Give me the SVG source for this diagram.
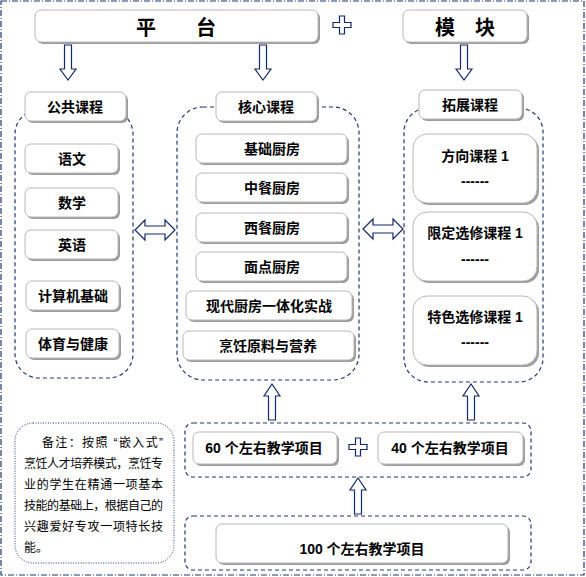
<svg xmlns="http://www.w3.org/2000/svg" width="586" height="577" viewBox="0 0 586 577">
<style>
.bx{fill:#fff;stroke:#b8b8b8;stroke-width:1}
.sh{fill:#9c9c9c}
.ct{fill:none;stroke:#1f3873;stroke-width:1.2;stroke-dasharray:4 3}
.ar{fill:#fff;stroke:#13296b;stroke-width:1.2;stroke-linejoin:miter}
.t{font-family:"Liberation Sans","Noto Sans CJK SC",sans-serif;font-weight:bold;font-size:14px;fill:#000;text-anchor:middle}
.big{font-size:20px}
.n{font-family:"Liberation Sans","Noto Sans CJK SC",sans-serif;font-size:12px;fill:#000}
</style>
<defs>
<path id="dn" class="ar" d="M-3.5,0 H3.5 V24 H8 L0,35 L-8,24 H-3.5 Z"/>
<path id="up" class="ar" d="M-3.5,36 H3.5 V12 H8 L0,0 L-8,12 H-3.5 Z"/>
<path id="lr" class="ar" d="M0,0 L10,-10 V-4 H30 V-10 L40,0 L30,10 V4 H10 V10 Z"/>
<path id="plus" class="ar" d="M-2.5,-9 H2.5 V-2.5 H9 V2.5 H2.5 V9 H-2.5 V2.5 H-9 V-2.5 H-2.5 Z"/>
</defs>

<rect x="1" y="1" width="583" height="574" fill="none" stroke="#1f3873" stroke-width="1.2" stroke-dasharray="6 2 1 2"/>

<g id="containers">
<rect class="ct" x="15" y="110" width="118" height="268" rx="24"/>
<rect class="ct" x="177" y="107" width="182" height="273" rx="26"/>
<rect class="ct" x="404" y="108" width="139" height="274" rx="24"/>
<rect class="ct" x="185" y="423" width="346" height="54" rx="8"/>
<rect class="ct" x="185" y="516" width="346" height="54" rx="8"/>
</g>

<g id="n-pingtai"><rect class="sh" x="37" y="12" width="283" height="32" rx="6"/><rect class="bx" x="35" y="10" width="283" height="32" rx="6"/><text class="t big" x="176" y="35">平　　台</text></g>
<g id="n-mokuai"><rect class="sh" x="405" y="12" width="124" height="32" rx="6"/><rect class="bx" x="403" y="10" width="124" height="32" rx="6"/><text class="t big" x="465" y="35">模　块</text></g>

<g id="n-gonggong"><rect class="sh" x="27" y="94" width="101" height="29" rx="6"/><rect class="bx" x="25" y="92" width="101" height="29" rx="6"/><text class="t" x="75" y="112">公共课程</text></g>
<g id="n-hexin"><rect class="sh" x="218" y="94" width="101" height="29" rx="6"/><rect class="bx" x="216" y="92" width="101" height="29" rx="6"/><text class="t" x="266" y="112">核心课程</text></g>
<g id="n-tuozhan"><rect class="sh" x="421" y="92" width="103" height="29" rx="6"/><rect class="bx" x="419" y="90" width="103" height="29" rx="6"/><text class="t" x="470" y="110">拓展课程</text></g>

<g id="n-yuwen"><rect class="sh" x="27" y="146" width="93" height="29" rx="6"/><rect class="bx" x="25" y="144" width="93" height="29" rx="6"/><text class="t" x="72" y="164">语文</text></g>
<g id="n-shuxue"><rect class="sh" x="27" y="190" width="93" height="29" rx="6"/><rect class="bx" x="25" y="188" width="93" height="29" rx="6"/><text class="t" x="72" y="208">数学</text></g>
<g id="n-yingyu"><rect class="sh" x="27" y="232" width="93" height="29" rx="6"/><rect class="bx" x="25" y="230" width="93" height="29" rx="6"/><text class="t" x="72" y="250">英语</text></g>
<g id="n-jisuanji"><rect class="sh" x="28" y="283" width="93" height="29" rx="6"/><rect class="bx" x="26" y="281" width="93" height="29" rx="6"/><text class="t" x="73" y="301">计算机基础</text></g>
<g id="n-tiyu"><rect class="sh" x="28" y="331" width="93" height="29" rx="6"/><rect class="bx" x="26" y="329" width="93" height="29" rx="6"/><text class="t" x="73" y="349">体育与健康</text></g>

<g id="n-jichu"><rect class="sh" x="198" y="136" width="151" height="29" rx="6"/><rect class="bx" x="196" y="134" width="151" height="29" rx="6"/><text class="t" x="272" y="154">基础厨房</text></g>
<g id="n-zhongcan"><rect class="sh" x="198" y="175" width="151" height="29" rx="6"/><rect class="bx" x="196" y="173" width="151" height="29" rx="6"/><text class="t" x="272" y="193">中餐厨房</text></g>
<g id="n-xican"><rect class="sh" x="198" y="215" width="151" height="29" rx="6"/><rect class="bx" x="196" y="213" width="151" height="29" rx="6"/><text class="t" x="272" y="233">西餐厨房</text></g>
<g id="n-miandian"><rect class="sh" x="198" y="254" width="151" height="29" rx="6"/><rect class="bx" x="196" y="252" width="151" height="29" rx="6"/><text class="t" x="272" y="272">面点厨房</text></g>
<g id="n-xiandai"><rect class="sh" x="188" y="293" width="166" height="29" rx="6"/><rect class="bx" x="186" y="291" width="166" height="29" rx="6"/><text class="t" x="269" y="311">现代厨房一体化实战</text></g>
<g id="n-pengren"><rect class="sh" x="185" y="333" width="171" height="29" rx="6"/><rect class="bx" x="183" y="331" width="171" height="29" rx="6"/><text class="t" x="268" y="351">烹饪原料与营养</text></g>

<g id="n-fangxiang"><rect class="sh" x="415" y="136" width="124" height="69" rx="14"/><rect class="bx" x="413" y="134" width="124" height="69" rx="14"/><text class="t" x="475" y="161">方向课程 1</text><text class="t" x="475" y="186">------</text></g>
<g id="n-xianding"><rect class="sh" x="415" y="214" width="124" height="69" rx="14"/><rect class="bx" x="413" y="212" width="124" height="69" rx="14"/><text class="t" x="475" y="238">限定选修课程 1</text><text class="t" x="475" y="264">------</text></g>
<g id="n-tese"><rect class="sh" x="415" y="298" width="124" height="69" rx="14"/><rect class="bx" x="413" y="296" width="124" height="69" rx="14"/><text class="t" x="475" y="322">特色选修课程 1</text><text class="t" x="475" y="347">------</text></g>

<g id="n-60"><rect class="sh" x="195" y="434" width="144" height="32" rx="6"/><rect class="bx" x="193" y="432" width="144" height="32" rx="6"/><text class="t" x="264" y="453">60 个左右教学项目</text></g>
<g id="n-40"><rect class="sh" x="380" y="434" width="145" height="32" rx="6"/><rect class="bx" x="378" y="432" width="145" height="32" rx="6"/><text class="t" x="450" y="453">40 个左右教学项目</text></g>
<g id="n-100"><rect class="sh" x="218" y="526" width="292" height="39" rx="6"/><rect class="bx" x="216" y="524" width="292" height="39" rx="6"/><text class="t" x="362" y="554">100 个左右教学项目</text></g>

<g id="n-note">
<rect x="15" y="423" width="159" height="140" rx="18" fill="none" stroke="#1f3873" stroke-width="1" stroke-dasharray="1 1.5"/>
<text class="n" x="42" y="447" textLength="121" lengthAdjust="spacing">备注：按照 “嵌入式”</text>
<text class="n" x="24" y="468" textLength="139" lengthAdjust="spacing">烹饪人才培养模式，烹饪专</text>
<text class="n" x="24" y="489" textLength="139" lengthAdjust="spacing">业的学生在精通一项基本</text>
<text class="n" x="24" y="510" textLength="139" lengthAdjust="spacing">技能的基础上，根据自己的</text>
<text class="n" x="24" y="531" textLength="139" lengthAdjust="spacing">兴趣爱好专攻一项特长技</text>
<text class="n" x="24" y="552">能。</text>
</g>

<g id="connectors">
<use href="#plus" x="342" y="25"/>
<use href="#plus" x="358" y="447"/>
<use href="#dn" x="68" y="45"/>
<use href="#dn" x="263" y="45"/>
<use href="#dn" x="464" y="45"/>
<use href="#lr" x="135" y="230"/>
<use href="#lr" x="363" y="229"/>
<use href="#up" x="272" y="384"/>
<use href="#up" x="471" y="384"/>
<use href="#up" x="358" y="478"/>
</g>
</svg>
